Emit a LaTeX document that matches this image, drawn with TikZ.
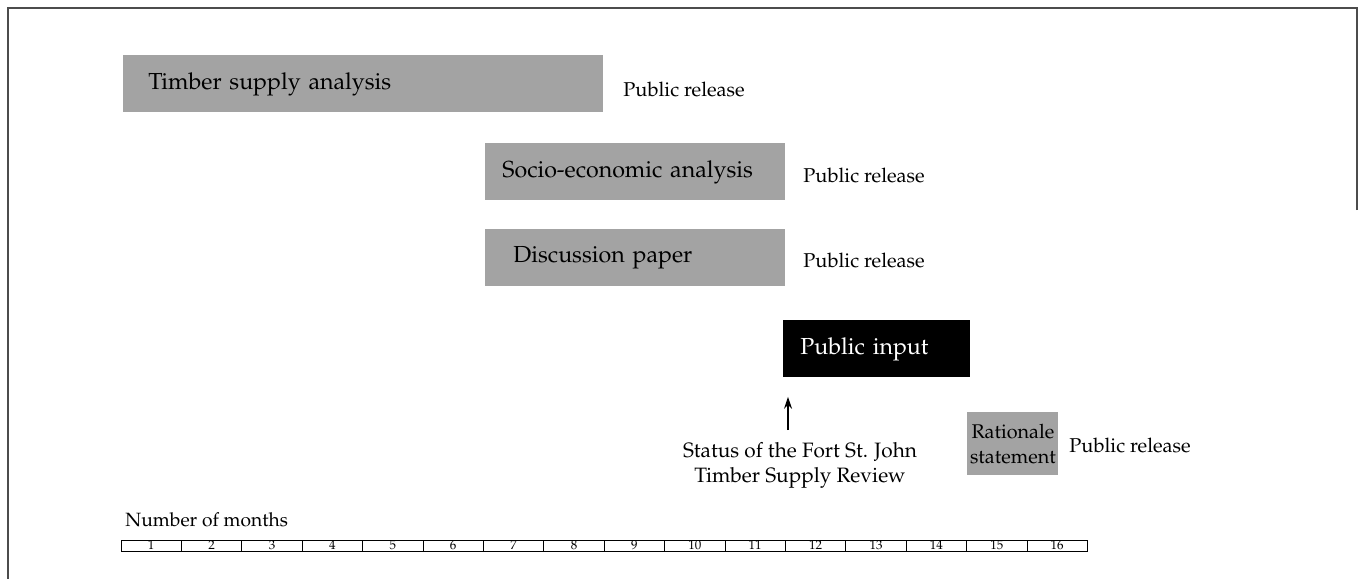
\documentclass[tikz,border=0pt]{standalone}
\usepackage[T1]{fontenc}
\usepackage{palatino}
\usetikzlibrary{arrows.meta}

\tikzset{
  task/.style={fill=black!36, anchor=north west, inner ysep=0pt, minimum height=28.5pt, align=left, font=\fontsize{11.6}{14}\selectfont},
  release/.style={anchor=west, inner sep=0pt, font=\fontsize{10}{12}\selectfont},
  month/.style={draw, line width=0.5pt, minimum width=30.2pt, minimum height=5.5pt, inner sep=0pt, font=\fontsize{6.5}{6}\selectfont},
  pointer/.style={-{Stealth[length=6pt,width=4pt]}, line width=0.6pt},
}

\begin{document}
\begin{tikzpicture}[x=0.5pt,y=-0.5pt]
	\useasboundingbox (0,0) rectangle (1358,579);
	% scanned frame
	\draw[black!70, line width=0.8pt] (1357,210) -- (1357,8) -- (8,8) -- (8,579);

	% the tasks
	\node[task, inner xsep=12.5pt, text width=215pt] (timber) at (123,55) {Timber supply analysis};
	\node[task, inner xsep=8.5pt, text width=133pt] (socio) at (485,143) {Socio-economic analysis};
	\node[task, inner xsep=14pt, text width=122pt] (discuss) at (485,229) {Discussion paper};
	\node[task, fill=black, text=white, inner xsep=8.5pt, text width=76.5pt] (pubin) at (783,320) {Public input};
	\node[task, inner sep=0.5pt, minimum width=45.5pt, minimum height=31.5pt, align=center, font=\fontsize{9.9}{12.5}\selectfont] (ration) at (967,412) {Rationale\\statement};

	\node[release] (rel1) at (623,89) {Public release};
	\node[release] (rel2) at (803,175) {Public release};
	\node[release] (rel3) at (803,260) {Public release};
	\node[release] (rel4) at (1069,445) {Public release};

	% status of the review
	\node[align=center, inner sep=0pt, font=\fontsize{10.4}{12.5}\selectfont] (status) at (800,465) {Status of the Fort St. John\\Timber Supply Review};
	\coordinate (statustop) at (788,430);
	\draw[pointer, shorten >=9.5pt] (statustop) -- (statustop |- pubin.south);

	% time scale
	\node[release, font=\fontsize{9.6}{12}\selectfont] (nmonths) at (125,520) {Number of months};
	\foreach \m in {1,...,16}
		\node[month] (m\m) at ({121+(\m-0.5)*60.4},545.5) {\m};
\end{tikzpicture}
\end{document}
